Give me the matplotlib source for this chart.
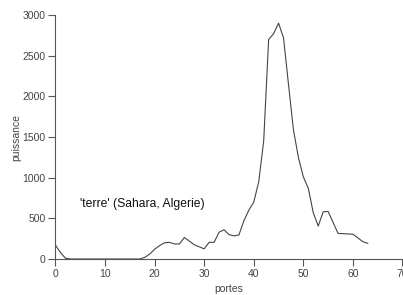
import matplotlib
matplotlib.use("Agg")
import matplotlib.pyplot as plt

plt.rcParams['font.family'] = ['Liberation Sans', 'DejaVu Sans']

portes = list(range(64))
puissance = [170, 80, 10, 0, 0, 0, 0, 0, 0, 0,
             0, 0, 0, 0, 0, 0, 0, 0, 20, 60,
             120, 165, 200, 205, 185, 185, 265, 220, 175, 150,
             125, 205, 205, 330, 360, 300, 285, 295, 470, 600,
             700, 950, 1450, 2700, 2770, 2900, 2720, 2150, 1590, 1250,
             1010, 870, 570, 405, 580, 585, 450, 315, 312, 308,
             305, 260, 213, 193]
xticks = [0, 10, 20, 30, 40, 50, 60, 70]
xticklabels = ['0', '10', '20', '30', '40', '50', '60', '70']
yticks = [0, 500, 1000, 1500, 2000, 2500, 3000]
label_text = "'terre' (Sahara, Algerie)"

fig = plt.figure(figsize=(4.03, 2.95), dpi=100)
ax = fig.add_axes([0.1377, 0.122, 0.861, 0.827])
ax.plot(portes, puissance, color='#444444', linewidth=0.8)
ax.set_xlim(0, 70)
ax.set_ylim(0, 3000)
ax.set_xticks(xticks)
ax.set_xticklabels(xticklabels)
ax.set_yticks(yticks)
for s in ['top', 'right']:
    ax.spines[s].set_visible(False)
for s in ['left', 'bottom']:
    ax.spines[s].set_color('#555555')
    ax.spines[s].set_linewidth(0.8)
ax.tick_params(axis='both', direction='out', length=5, width=0.8,
               color='#555555', labelsize=7.5, labelcolor='#444444', pad=2)
ax.set_xlabel('portes', fontsize=7.5, color='#444444', labelpad=4)
ax.set_ylabel('puissance', fontsize=7.5, color='#444444', labelpad=1)
ax.text(4.9, 680, label_text, fontsize=8.7, color='#111111', va='center', ha='left')
fig.savefig('out.png', dpi=100)
